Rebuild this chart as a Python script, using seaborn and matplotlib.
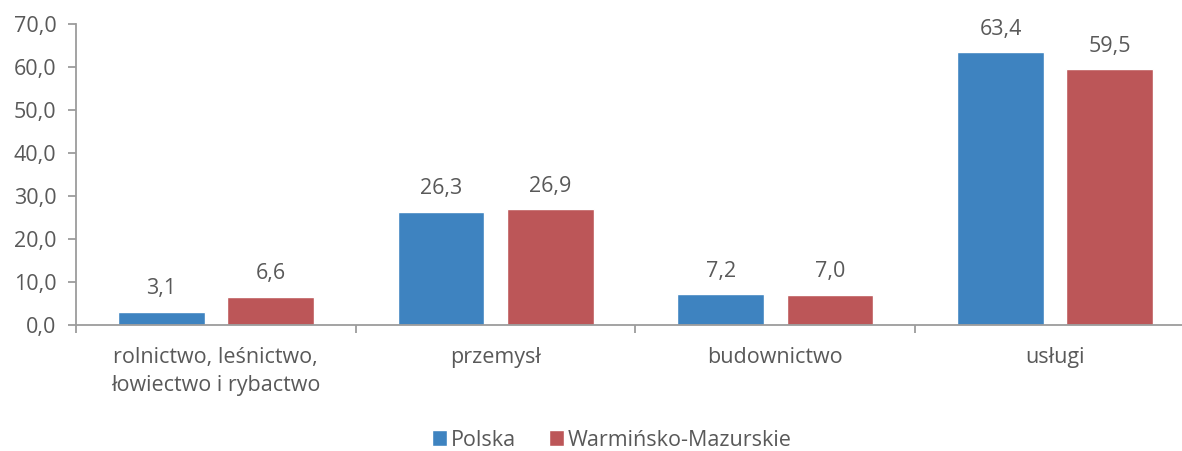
import matplotlib.pyplot as plt
import pandas as pd
import seaborn as sns
from matplotlib.ticker import FixedLocator

categories = ["rolnictwo, leśnictwo,\nłowiectwo i rybactwo", "przemysł", "budownictwo", "usługi"]
polska = [3.1, 26.3, 7.2, 63.4]
warminsko = [6.6, 26.9, 7.0, 59.5]
series = ["Polska", "Warmińsko-Mazurskie"]
colors = ["#3E83C0", "#BC5658"]
yticks = [0, 10, 20, 30, 40, 50, 60, 70]

df = pd.DataFrame({
    "kategoria": categories * 2,
    "wartosc": polska + warminsko,
    "region": [series[0]] * 4 + [series[1]] * 4,
})

sns.set_style("white")
plt.rcParams["font.family"] = ["Open Sans", "DejaVu Sans"]
text_col = "#595959"
axis_col = "#9C9C9C"
fs = 15.5

fig = plt.figure(figsize=(11.82, 4.51), dpi=100)
ax = fig.add_axes([76 / 1182, 1 - 325 / 451, 1119 / 1182, 301 / 451])

sns.barplot(data=df, x="kategoria", y="wartosc", hue="region", palette=colors,
            width=0.78, gap=0.205, ax=ax, legend=True, saturation=1)

for cont in ax.containers:
    ax.bar_label(cont, fmt=lambda v: f"{v:.1f}".replace(".", ","), padding=9,
                 fontsize=fs, color=text_col)

ax.set_xlim(-0.5, 3.5)
ax.set_ylim(0, 70)
ax.set_yticks(yticks)
ax.set_yticklabels([f"{v:.1f}".replace(".", ",") for v in yticks])
ax.set_xlabel("")
ax.set_ylabel("")

# category boundaries as minor ticks, labels on major ticks without marks
ax.xaxis.set_minor_locator(FixedLocator([-0.5, 0.5, 1.5, 2.5]))
ax.tick_params(axis="x", which="major", bottom=True, length=0, pad=16,
               labelsize=fs, labelcolor=text_col)
ax.tick_params(axis="x", which="minor", bottom=True, length=6, width=1.3,
               color=axis_col, direction="out")
ax.tick_params(axis="y", left=True, length=6, width=1.3, color=axis_col, direction="out",
               labelsize=fs, labelcolor=text_col, pad=8)
for lbl in ax.get_xticklabels():
    lbl.set_linespacing(1.45)

for s in ["top", "right"]:
    ax.spines[s].set_visible(False)
for s in ["left", "bottom"]:
    ax.spines[s].set_color(axis_col)
    ax.spines[s].set_linewidth(1.3)

handles, labels = ax.get_legend_handles_labels()
ax.get_legend().remove()
fig.legend(handles, labels, loc="center", bbox_to_anchor=(612 / 1182, 1 - 440 / 451),
           ncol=2, frameon=False, fontsize=fs, labelcolor=text_col,
           handlelength=0.7, handleheight=0.7, handletextpad=0.2, columnspacing=1.5)

fig.savefig("out.png", dpi=100)
